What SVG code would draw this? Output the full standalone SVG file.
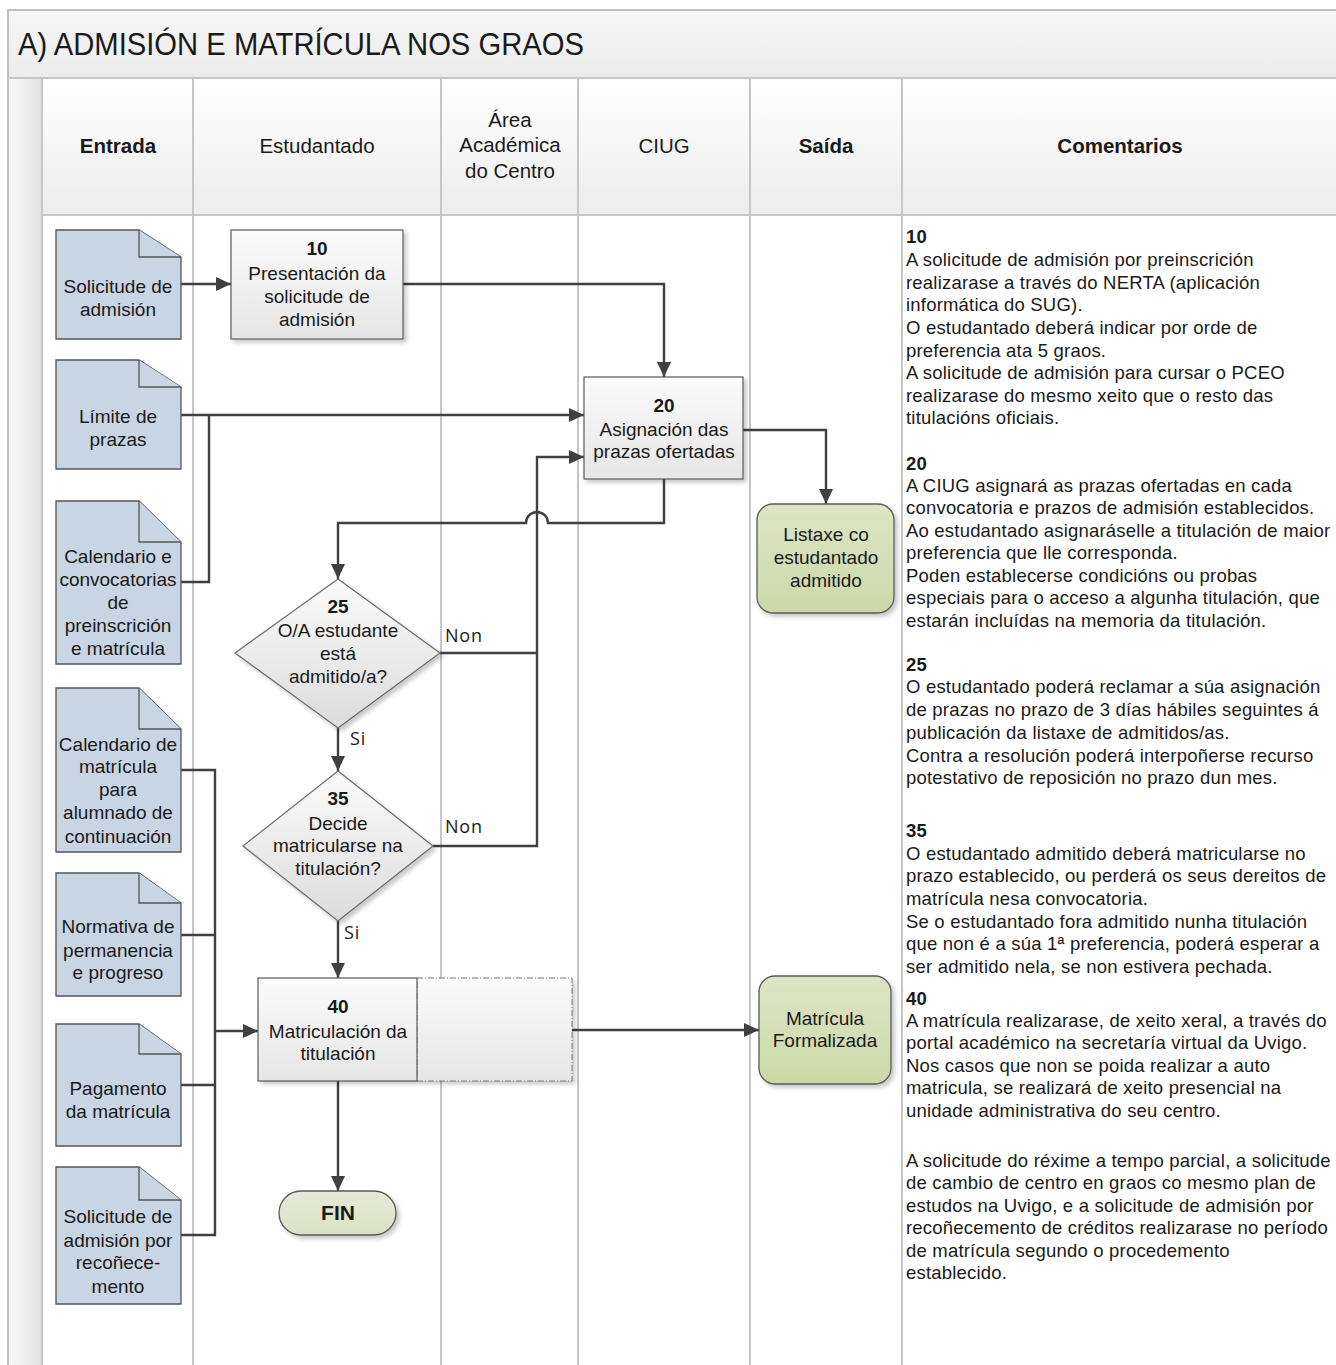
<svg xmlns="http://www.w3.org/2000/svg" width="1336" height="1365" viewBox="0 0 1336 1365">
<defs>
<style>
text{font-family:"Liberation Sans",Arial,sans-serif;fill:#1a1a1a}
.t{font-size:19px;text-anchor:middle}
.b{font-weight:bold}
.hdr{font-size:20.5px;text-anchor:middle}
.cm{font-size:18.5px;letter-spacing:0.2px}
.lbl{font-family:"Open Sans","Liberation Sans",sans-serif;font-size:18px;letter-spacing:0.8px}
.lane{stroke:#c6c6c6;stroke-width:2;fill:none}
.doc{fill:#c8d5e5;stroke:#555;stroke-width:1.3}
.proc{fill:url(#gProc);stroke:#5a5a5a;stroke-width:1.2}
.dia{fill:url(#gDia);stroke:#6a6a6a;stroke-width:1.2}
.out{fill:url(#gOut);stroke:#5a5a5a;stroke-width:1.3}
.con{fill:none;stroke:#404040;stroke-width:2.4}
</style>
<linearGradient id="gProc" x1="0" y1="0" x2="0" y2="1"><stop offset="0" stop-color="#fbfbfb"/><stop offset="1" stop-color="#e6e6e6"/></linearGradient>
<linearGradient id="gDia" x1="0" y1="0" x2="0" y2="1"><stop offset="0" stop-color="#fbfbfb"/><stop offset="1" stop-color="#dcdcdc"/></linearGradient>
<linearGradient id="gOut" x1="0" y1="0" x2="0" y2="1"><stop offset="0" stop-color="#dde5c4"/><stop offset="1" stop-color="#cdd8a8"/></linearGradient>
<linearGradient id="gFin" x1="0" y1="0" x2="0" y2="1"><stop offset="0" stop-color="#e6ead6"/><stop offset="1" stop-color="#dbe1c6"/></linearGradient>
<linearGradient id="gHdr" x1="0" y1="0" x2="0" y2="1"><stop offset="0" stop-color="#ffffff"/><stop offset="1" stop-color="#ececec"/></linearGradient>
<linearGradient id="gTitle" x1="0" y1="0" x2="0" y2="1"><stop offset="0" stop-color="#f6f6f6"/><stop offset="1" stop-color="#ececec"/></linearGradient>
<linearGradient id="gStrip" x1="0" y1="0" x2="1" y2="0"><stop offset="0" stop-color="#f8f8f8"/><stop offset="1" stop-color="#e2e2e2"/></linearGradient>
<filter id="sh" x="-10%" y="-10%" width="130%" height="130%"><feDropShadow dx="3" dy="3" stdDeviation="2" flood-color="#000" flood-opacity="0.22"/></filter>
<marker id="arr" markerUnits="userSpaceOnUse" markerWidth="16" markerHeight="14" refX="15" refY="7" orient="auto"><path d="M0,0 L15,7 L0,14 z" fill="#404040"/></marker>
</defs>

<!-- frame -->
<g id="frame">
<rect x="8" y="10" width="1340" height="1370" fill="#ffffff" stroke="#bfbfbf" stroke-width="2"/>
<rect x="9" y="11" width="1338" height="67" fill="url(#gTitle)"/>
<line x1="8" y1="78" x2="1336" y2="78" class="lane"/>
<rect x="9" y="79" width="33" height="1290" fill="url(#gStrip)"/>
<rect x="42" y="79" width="1296" height="136" fill="url(#gHdr)"/>
<line x1="42" y1="215" x2="1336" y2="215" class="lane"/>
<line x1="42" y1="78" x2="42" y2="1365" class="lane"/>
<line x1="193" y1="78" x2="193" y2="1365" class="lane"/>
<line x1="441" y1="78" x2="441" y2="1365" class="lane"/>
<line x1="578" y1="78" x2="578" y2="1365" class="lane"/>
<line x1="750" y1="78" x2="750" y2="1365" class="lane"/>
<line x1="902" y1="78" x2="902" y2="1365" class="lane"/>
<text x="18" y="55" font-size="31" textLength="566" lengthAdjust="spacingAndGlyphs">A) ADMISIÓN E MATRÍCULA NOS GRAOS</text>
<text class="hdr b" x="118" y="153">Entrada</text>
<text class="hdr" x="317" y="153">Estudantado</text>
<text class="hdr" x="510" y="127">Área</text>
<text class="hdr" x="510" y="152">Académica</text>
<text class="hdr" x="510" y="178">do Centro</text>
<text class="hdr" x="664" y="153">CIUG</text>
<text class="hdr b" x="826" y="153">Saída</text>
<text class="hdr b" x="1120" y="153">Comentarios</text>
</g>

<!-- connectors -->
<g id="connectors">
<line class="con" x1="181" y1="284" x2="231" y2="284" marker-end="url(#arr)"/>
<polyline class="con" points="403,284 664,284 664,377" marker-end="url(#arr)"/>
<line class="con" x1="181" y1="415" x2="584" y2="415" marker-end="url(#arr)"/>
<polyline class="con" points="181,582 209,582 209,415"/>
<polyline class="con" points="743,430 826,430 826,504" marker-end="url(#arr)"/>
<path class="con" d="M664,479 V523 H548 A11,11 0 0 0 526,523 H338 V579" marker-end="url(#arr)"/>
<polyline class="con" points="440,653 537,653"/>
<polyline class="con" points="433,846 537,846 537,457 584,457" marker-end="url(#arr)"/>
<line class="con" x1="338" y1="728" x2="338" y2="771" marker-end="url(#arr)"/>
<line class="con" x1="338" y1="921" x2="338" y2="978" marker-end="url(#arr)"/>
<polyline class="con" points="181,770 215,770 215,1235 181,1235"/>
<line class="con" x1="181" y1="935" x2="215" y2="935"/>
<line class="con" x1="181" y1="1085" x2="215" y2="1085"/>
<line class="con" x1="215" y1="1031" x2="258" y2="1031" marker-end="url(#arr)"/>
<line class="con" x1="572" y1="1030" x2="759" y2="1030" marker-end="url(#arr)"/>
<line class="con" x1="338" y1="1081" x2="338" y2="1191" marker-end="url(#arr)"/>
<text class="lbl" x="445" y="642">Non</text>
<text class="lbl" x="445" y="833">Non</text>
<text class="lbl" x="350" y="745">Si</text>
<text class="lbl" x="344" y="939">Si</text>
</g>

<!-- documents -->
<g id="doc-solicitude">
<path class="doc" d="M56,230 H139 L181,257 V339 H56 Z"/><path class="doc" fill="none" d="M139,230 V257 H181"/>
<text class="t" x="118" y="293">Solicitude de</text><text class="t" x="118" y="316">admisión</text>
</g>
<g id="doc-limite">
<path class="doc" d="M56,360 H139 L181,387 V469 H56 Z"/><path class="doc" d="M139,360 V387 H181"/>
<text class="t" x="118" y="423">Límite de</text><text class="t" x="118" y="446">prazas</text>
</g>
<g id="doc-calendario-conv">
<path class="doc" d="M56,501 H139 L181,542 V664 H56 Z"/><path class="doc" d="M139,501 V542 H181"/>
<text class="t" x="118" y="563">Calendario e</text><text class="t" x="118" y="586">convocatorias</text><text class="t" x="118" y="609">de</text><text class="t" x="118" y="632">preinscrición</text><text class="t" x="118" y="655">e matrícula</text>
</g>
<g id="doc-calendario-mat">
<path class="doc" d="M56,688 H139 L181,729 V852 H56 Z"/><path class="doc" d="M139,688 V729 H181"/>
<text class="t" x="118" y="751">Calendario de</text><text class="t" x="118" y="773">matrícula</text><text class="t" x="118" y="796">para</text><text class="t" x="118" y="819">alumnado de</text><text class="t" x="118" y="843">continuación</text>
</g>
<g id="doc-normativa">
<path class="doc" d="M56,873 H139 L181,903 V996 H56 Z"/><path class="doc" d="M139,873 V903 H181"/>
<text class="t" x="118" y="933">Normativa de</text><text class="t" x="118" y="957">permanencia</text><text class="t" x="118" y="979">e progreso</text>
</g>
<g id="doc-pagamento">
<path class="doc" d="M56,1024 H139 L181,1054 V1146 H56 Z"/><path class="doc" d="M139,1024 V1054 H181"/>
<text class="t" x="118" y="1095">Pagamento</text><text class="t" x="118" y="1118">da matrícula</text>
</g>
<g id="doc-reconecemento">
<path class="doc" d="M56,1167 H139 L181,1200 V1304 H56 Z"/><path class="doc" d="M139,1167 V1200 H181"/>
<text class="t" x="118" y="1223">Solicitude de</text><text class="t" x="118" y="1247">admisión por</text><text class="t" x="118" y="1269">recoñece-</text><text class="t" x="118" y="1293">mento</text>
</g>

<!-- process nodes -->
<g id="p10">
<rect class="proc" x="231" y="230" width="172" height="109" filter="url(#sh)"/>
<text class="t b" x="317" y="255">10</text><text class="t" x="317" y="280">Presentación da</text><text class="t" x="317" y="303">solicitude de</text><text class="t" x="317" y="326">admisión</text>
</g>
<g id="p20">
<rect class="proc" x="584" y="377" width="159" height="102" filter="url(#sh)"/>
<text class="t b" x="664" y="412">20</text><text class="t" x="664" y="436">Asignación das</text><text class="t" x="664" y="458">prazas ofertadas</text>
</g>
<g id="d25">
<polygon class="dia" points="338,579 440,653 338,728 235,653" filter="url(#sh)"/>
<text class="t b" x="338" y="613">25</text><text class="t" x="338" y="637">O/A estudante</text><text class="t" x="338" y="660">está</text><text class="t" x="338" y="683">admitido/a?</text>
</g>
<g id="d35">
<polygon class="dia" points="338,771 433,846 338,921 243,846" filter="url(#sh)"/>
<text class="t b" x="338" y="805">35</text><text class="t" x="338" y="830">Decide</text><text class="t" x="338" y="852">matricularse na</text><text class="t" x="338" y="875">titulación?</text>
</g>
<g id="p40">
<rect x="258" y="978" width="314" height="103" fill="url(#gProc)" filter="url(#sh)"/>
<rect x="417" y="978" width="155" height="103" fill="none" stroke="#777" stroke-width="1" stroke-dasharray="6,2,1,2"/>
<rect class="proc" x="258" y="978" width="159" height="103" fill="none"/>
<text class="t b" x="338" y="1013">40</text><text class="t" x="338" y="1038">Matriculación da</text><text class="t" x="338" y="1060">titulación</text>
</g>
<g id="fin">
<rect x="279" y="1191" width="117" height="44" rx="22" fill="url(#gFin)" stroke="#5a5a5a" stroke-width="1.3" filter="url(#sh)"/>
<text class="b" x="338" y="1220" font-size="21" text-anchor="middle">FIN</text>
</g>

<!-- outputs -->
<g id="out-listaxe">
<rect class="out" x="757" y="504" width="137" height="109" rx="16" filter="url(#sh)"/>
<text class="t" x="826" y="541">Listaxe co</text><text class="t" x="826" y="564">estudantado</text><text class="t" x="826" y="587">admitido</text>
</g>
<g id="out-matricula">
<rect class="out" x="759" y="976" width="132" height="108" rx="16" filter="url(#sh)"/>
<text class="t" x="825" y="1025">Matrícula</text><text class="t" x="825" y="1047">Formalizada</text>
</g>

<!-- comments -->
<g id="comentarios">
<text class="cm b" x="906" y="243">10</text>
<text class="cm" x="906" y="266">A solicitude de admisión por preinscrición</text>
<text class="cm" x="906" y="289">realizarase a través do NERTA (aplicación</text>
<text class="cm" x="906" y="311">informática do SUG).</text>
<text class="cm" x="906" y="334">O estudantado deberá indicar por orde de</text>
<text class="cm" x="906" y="357">preferencia ata 5 graos.</text>
<text class="cm" x="906" y="379">A solicitude de admisión para cursar o PCEO</text>
<text class="cm" x="906" y="402">realizarase do mesmo xeito que o resto das</text>
<text class="cm" x="906" y="424">titulacións oficiais.</text>
<text class="cm b" x="906" y="470">20</text>
<text class="cm" x="906" y="492">A CIUG asignará as prazas ofertadas en cada</text>
<text class="cm" x="906" y="514">convocatoria e prazos de admisión establecidos.</text>
<text class="cm" x="906" y="537">Ao estudantado asignaráselle a titulación de maior</text>
<text class="cm" x="906" y="559">preferencia que lle corresponda.</text>
<text class="cm" x="906" y="582">Poden establecerse condicións ou probas</text>
<text class="cm" x="906" y="604">especiais para o acceso a algunha titulación, que</text>
<text class="cm" x="906" y="627">estarán incluídas na memoria da titulación.</text>
<text class="cm b" x="906" y="671">25</text>
<text class="cm" x="906" y="693">O estudantado poderá reclamar a súa asignación</text>
<text class="cm" x="906" y="716">de prazas no prazo de 3 días hábiles seguintes á</text>
<text class="cm" x="906" y="739">publicación da listaxe de admitidos/as.</text>
<text class="cm" x="906" y="762">Contra a resolución poderá interpoñerse recurso</text>
<text class="cm" x="906" y="784">potestativo de reposición no prazo dun mes.</text>
<text class="cm b" x="906" y="837">35</text>
<text class="cm" x="906" y="860">O estudantado admitido deberá matricularse no</text>
<text class="cm" x="906" y="882">prazo establecido, ou perderá os seus dereitos de</text>
<text class="cm" x="906" y="905">matrícula nesa convocatoria.</text>
<text class="cm" x="906" y="928">Se o estudantado fora admitido nunha titulación</text>
<text class="cm" x="906" y="950">que non é a súa 1ª preferencia, poderá esperar a</text>
<text class="cm" x="906" y="973">ser admitido nela, se non estivera pechada.</text>
<text class="cm b" x="906" y="1005">40</text>
<text class="cm" x="906" y="1027">A matrícula realizarase, de xeito xeral, a través do</text>
<text class="cm" x="906" y="1049">portal académico na secretaría virtual da Uvigo.</text>
<text class="cm" x="906" y="1072">Nos casos que non se poida realizar a auto</text>
<text class="cm" x="906" y="1094">matricula, se realizará de xeito presencial na</text>
<text class="cm" x="906" y="1117">unidade administrativa do seu centro.</text>
<text class="cm" x="906" y="1167">A solicitude do réxime a tempo parcial, a solicitude</text>
<text class="cm" x="906" y="1189">de cambio de centro en graos co mesmo plan de</text>
<text class="cm" x="906" y="1212">estudos na Uvigo, e a solicitude de admisión por</text>
<text class="cm" x="906" y="1234">recoñecemento de créditos realizarase no período</text>
<text class="cm" x="906" y="1257">de matrícula segundo o procedemento</text>
<text class="cm" x="906" y="1279">establecido.</text>
</g>
</svg>
